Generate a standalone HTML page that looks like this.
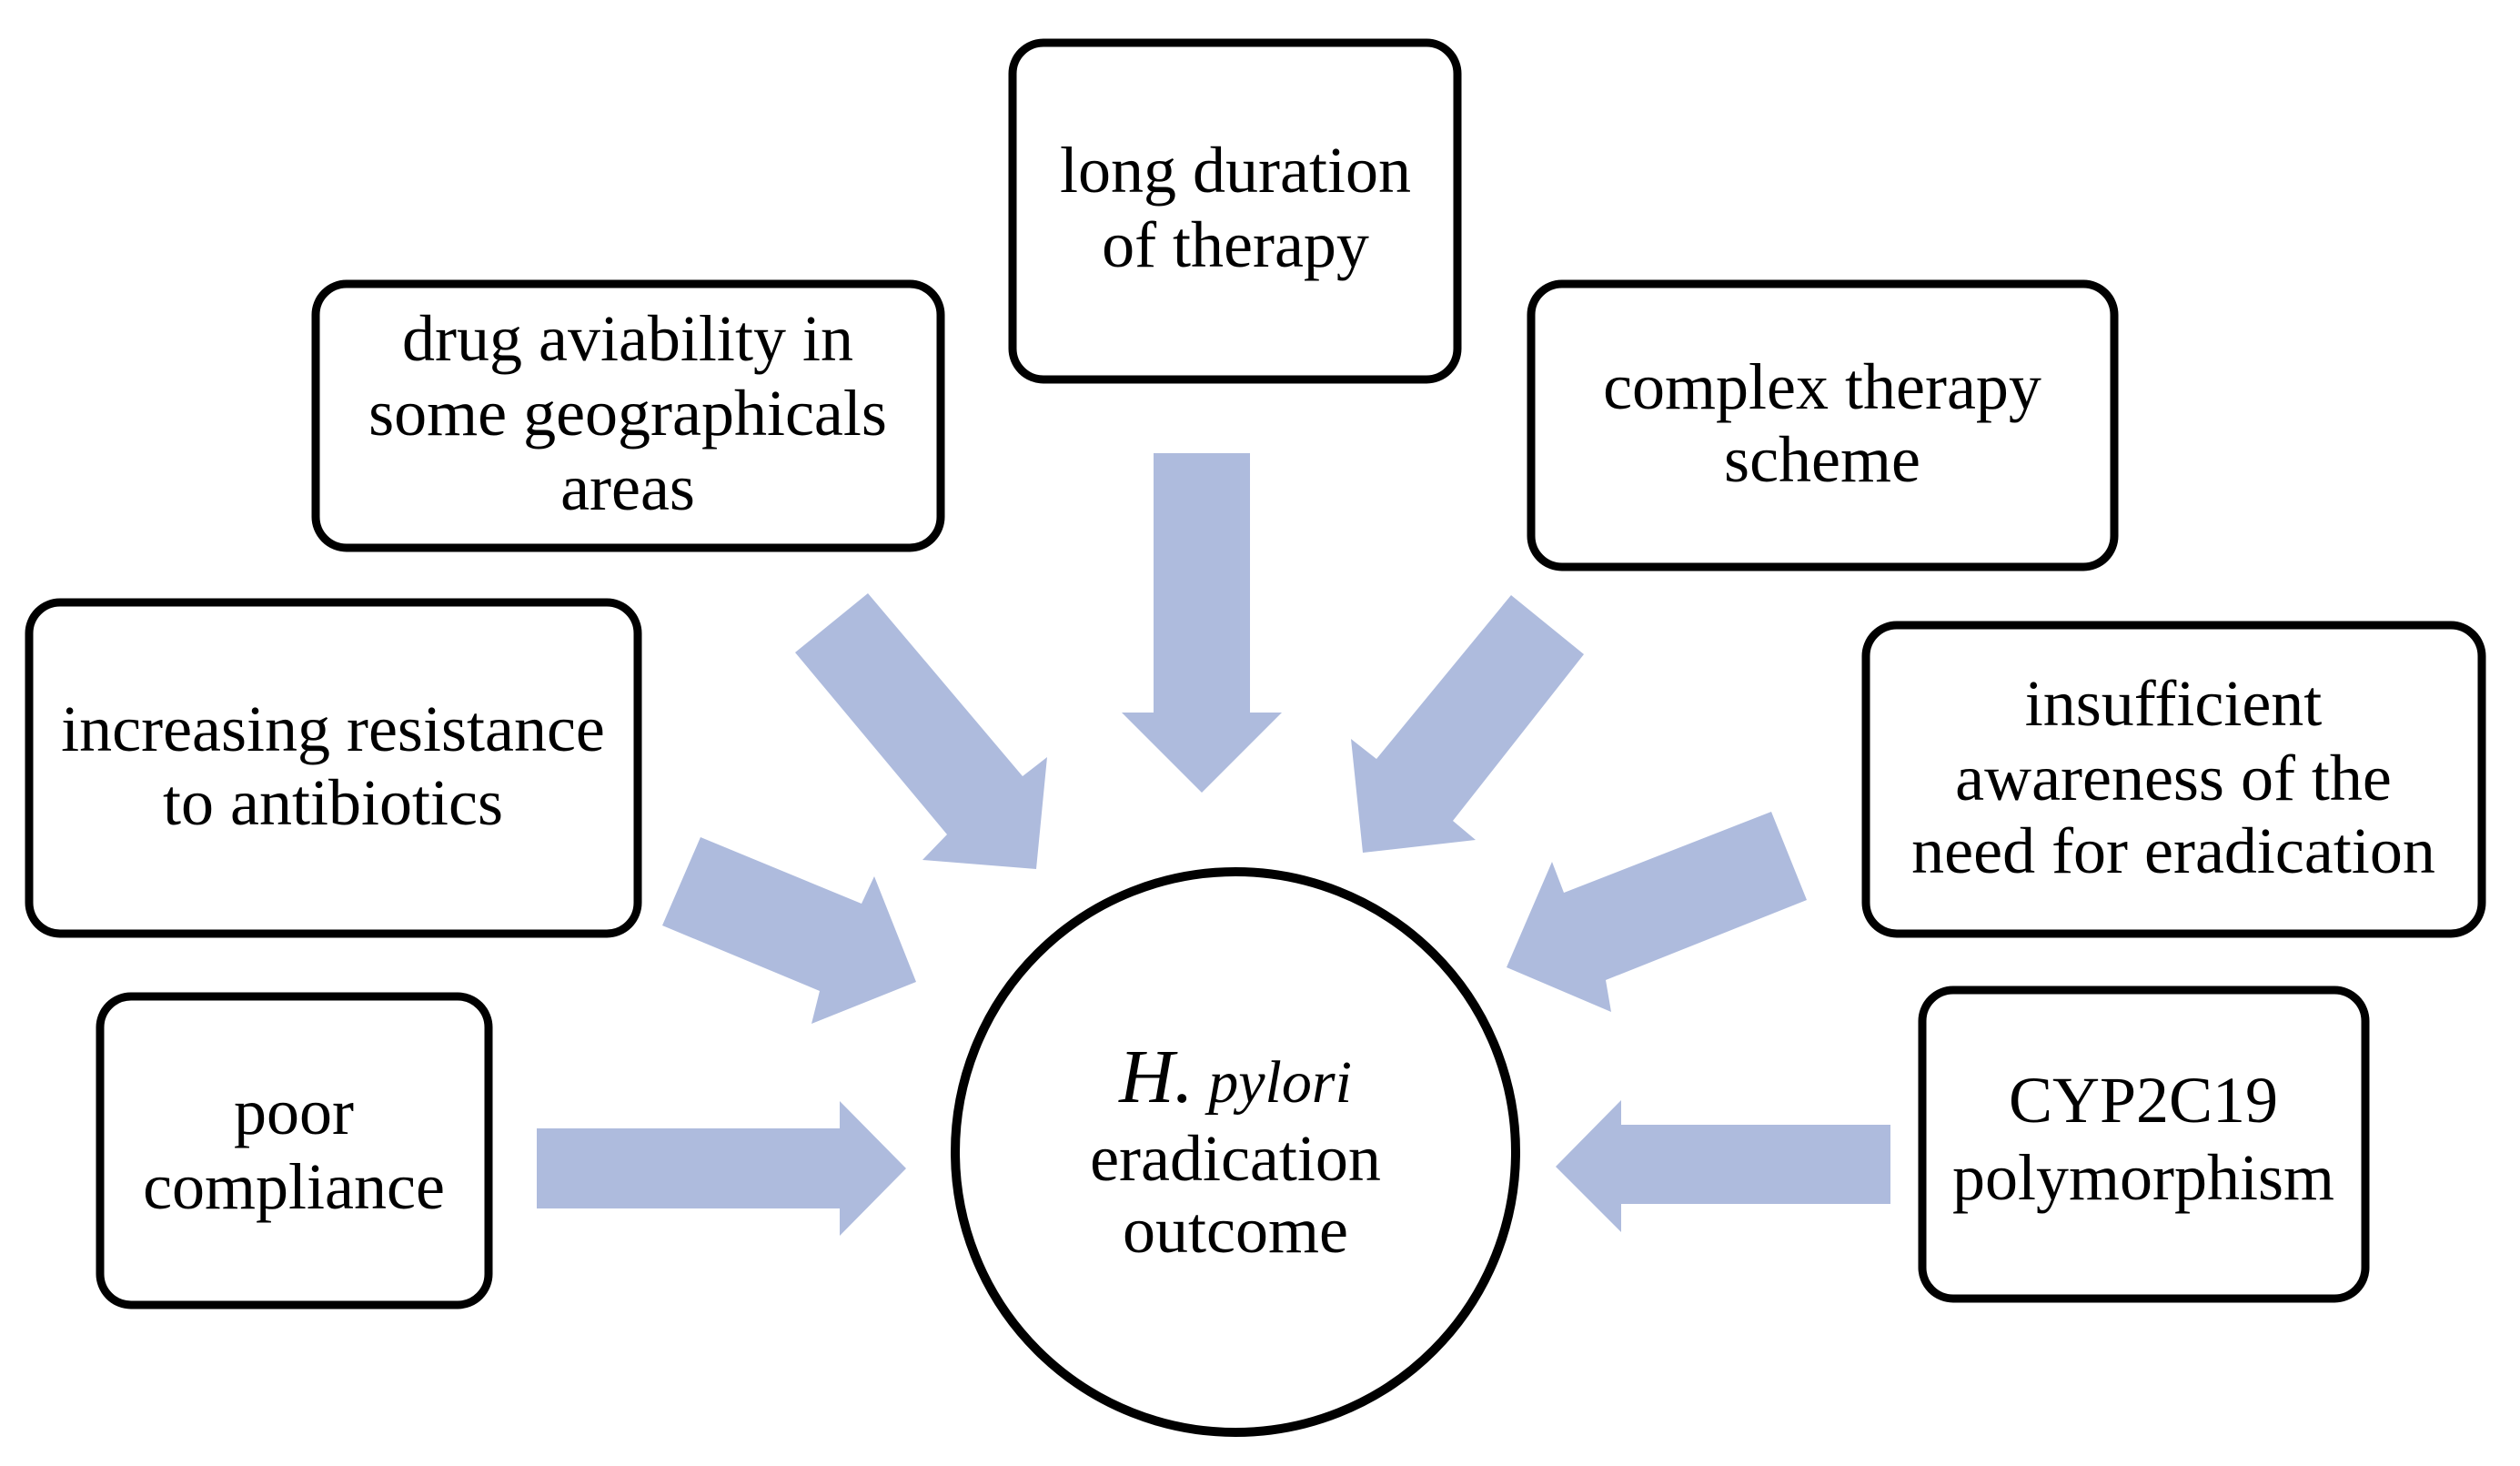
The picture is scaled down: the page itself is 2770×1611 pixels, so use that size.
<!DOCTYPE html>
<html><head><meta charset="utf-8"><style>
html,body{margin:0;padding:0;background:#fff;}
svg{display:block;}
text{font-family:"Liberation Serif",serif;font-size:72px;fill:#000;text-anchor:middle;}
</style></head><body>
<svg width="2770" height="1611" viewBox="0 0 2770 1611" xmlns="http://www.w3.org/2000/svg">
<g fill="#aebbdd">
<polygon points="1268,498 1374,498 1374,783 1409,783 1321,871 1233,783 1268,783"/>
<polygon points="874,717 954,652 1124,853 1151,832 1139,955 1014,945 1041,917"/>
<polygon points="770,920 947,993 961,963 1007,1079 892,1125 901,1089 728,1017"/>
<polygon points="590,1240 923,1240 923,1210 996,1284 923,1358 923,1328 590,1328"/>
<polygon points="1661,654 1741,719 1597,902 1622,923 1498,937 1485,812 1513,834"/>
<polygon points="1947,892 1986,989 1765,1077 1771,1112 1656,1063 1706,947 1719,981"/>
<polygon points="2078,1236 2078,1323 1782,1323 1782,1354 1710,1282 1782,1209 1782,1236"/>
</g>
<g fill="#fff" stroke="#000" stroke-width="9">
<rect x="1113" y="47" width="489" height="370" rx="34"/>
<rect x="347" y="312" width="687" height="290" rx="34"/>
<rect x="32" y="662" width="669" height="364" rx="34"/>
<rect x="110" y="1095" width="427" height="339" rx="34"/>
<rect x="1683" y="312" width="641" height="311" rx="34"/>
<rect x="2051" y="687" width="677" height="339" rx="34"/>
<rect x="2113" y="1088" width="487" height="339" rx="34"/>
<circle cx="1358" cy="1266" r="308" stroke-width="10"/>
</g>
<text x="1358" y="211">long duration</text>
<text x="1358" y="293">of therapy</text>
<text x="690" y="396">drug aviability in</text>
<text x="690" y="478">some geographicals</text>
<text x="690" y="560">areas</text>
<text x="366" y="825">increasing resistance</text>
<text x="366" y="906">to antibiotics</text>
<text x="323" y="1246">poor</text>
<text x="323" y="1328">compliance</text>
<text x="2003" y="449">complex therapy</text>
<text x="2003" y="529">scheme</text>
<text x="2389" y="797">insufficient</text>
<text x="2389" y="879">awareness of the</text>
<text x="2389" y="959">need for eradication</text>
<text x="2356" y="1233">CYP2C19</text>
<text x="2356" y="1318">polymorphism</text>
<text x="1358" y="1211" font-style="italic"><tspan font-size="84">H.</tspan><tspan font-size="66"> pylori</tspan></text>
<text x="1358" y="1297">eradication</text>
<text x="1358" y="1376">outcome</text>
</svg>
</body></html>
